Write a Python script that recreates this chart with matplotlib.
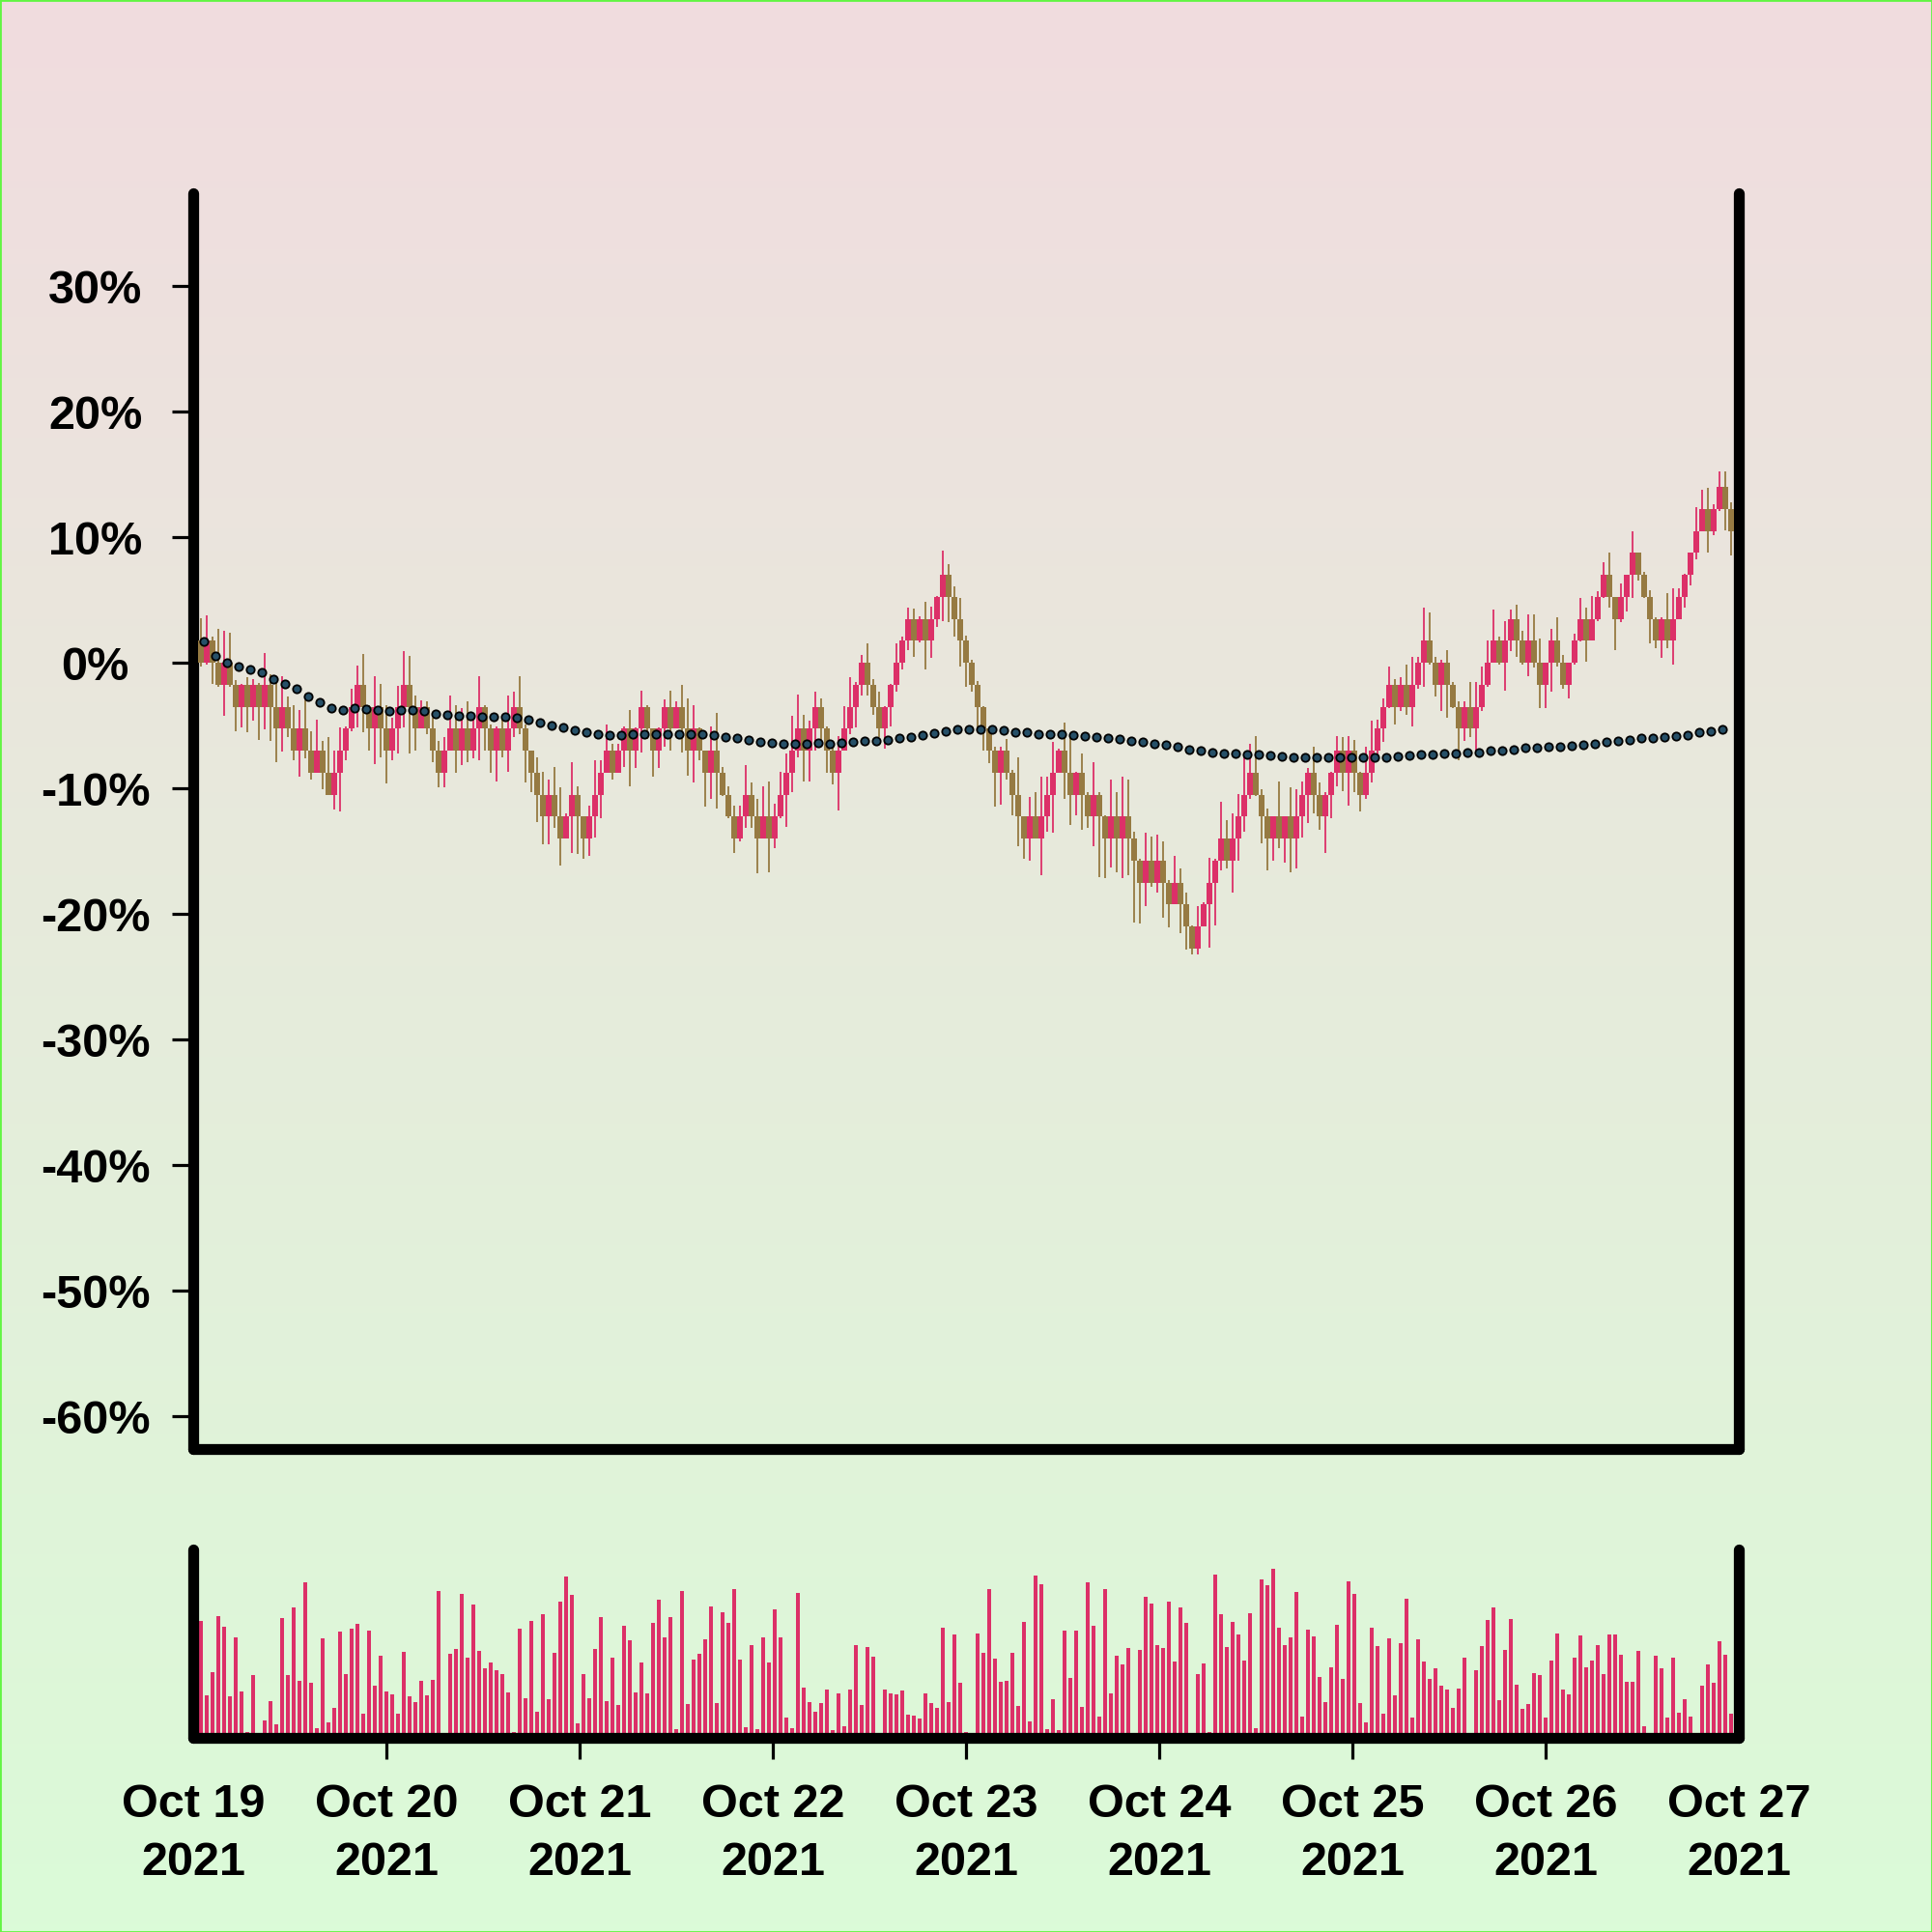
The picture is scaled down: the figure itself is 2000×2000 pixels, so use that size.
import numpy as np
import pandas as pd
import matplotlib
matplotlib.use("Agg")
import matplotlib.pyplot as plt
import matplotlib.dates as mdates
from matplotlib.patches import Rectangle

# candles move in bricks of ~1.75 %, values below are in brick units
BRICK = 1.75
PINK = "#DC3068"
BROWN = "#967A42"

candle_times = pd.date_range("2021-10-19 00:57:36", periods=265, freq="2592s")
ma_times = pd.date_range("2021-10-19 01:19:12", periods=132, freq="5184s")
day_ticks = pd.date_range("2021-10-19", "2021-10-27", freq="D")

first_open = 1
close_lv = [
    0, 1, 0, -1, 0, -1, -2, -1, -2, -1,
    -2, -1, -2, -3, -2, -3, -4, -3, -4, -5,
    -4, -5, -6, -5, -4, -3, -2, -1, -2, -3,
    -2, -3, -4, -3, -2, -1, -2, -3, -2, -3,
    -4, -5, -4, -3, -4, -3, -4, -3, -2, -3,
    -4, -3, -4, -3, -2, -3, -4, -5, -6, -7,
    -6, -7, -8, -7, -6, -7, -8, -7, -6, -5,
    -4, -5, -4, -3, -4, -3, -2, -3, -4, -3,
    -2, -3, -2, -3, -4, -3, -4, -5, -4, -5,
    -6, -7, -8, -7, -6, -7, -8, -7, -8, -7,
    -6, -5, -4, -3, -4, -3, -2, -3, -4, -5,
    -4, -3, -2, -1, 0, -1, -2, -3, -2, -1,
    0, 1, 2, 1, 2, 1, 2, 3, 4, 3,
    2, 1, 0, -1, -2, -3, -4, -5, -4, -5,
    -6, -7, -8, -7, -8, -7, -6, -5, -4, -5,
    -6, -5, -6, -7, -6, -7, -8, -7, -8, -7,
    -8, -9, -10, -9, -10, -9, -10, -11, -10, -11,
    -12, -13, -12, -11, -10, -9, -8, -9, -8, -7,
    -6, -5, -6, -7, -8, -7, -8, -7, -8, -7,
    -6, -5, -6, -7, -6, -5, -4, -5, -4, -5,
    -6, -5, -4, -3, -2, -1, -2, -1, -2, -1,
    0, 1, 0, -1, 0, -1, -2, -3, -2, -3,
    -2, -1, 0, 1, 0, 1, 2, 1, 0, 1,
    0, -1, 0, 1, 0, -1, 0, 1, 2, 1,
    2, 3, 4, 3, 2, 3, 4, 5, 4, 3,
    2, 1, 2, 1, 2, 3, 4, 5, 6, 7,
    6, 7, 8, 7, 6,
]
high_lv = [
    2.04, 2.18, 1.18, 1.55, 1.47, 1.36, -0.8, -0.96, -0.66, -0.74,
    -0.9, 0.47, -0.52, -0.88, -0.59, -1.55, -1.92, -2.14, -1.7, -3.1,
    -2.58, -3.54, -3.39, -3.98, -2.95, -2.88, -1.18, -0.12, 0.41, -1.92,
    -0.59, -0.96, -1.92, -2.5, -1.03, 0.55, 0.32, -1.47, -1.7, -1.77,
    -2.5, -3.54, -3.39, -1.47, -1.92, -2.06, -1.77, -2.36, -0.59, -1.92,
    -2.8, -2.88, -2.36, -1.47, -1.33, -0.59, -2.8, -3.98, -4.28, -4.94,
    -5.31, -4.72, -5.68, -6.86, -4.54, -5.6, -7.0, -6.49, -4.42, -4.42,
    -2.8, -3.69, -3.69, -2.88, -2.14, -2.95, -1.25, -1.92, -3.24, -2.95,
    -1.65, -1.25, -1.77, -1.0, -1.62, -1.92, -2.95, -3.98, -2.88, -2.26,
    -4.72, -5.6, -6.49, -6.49, -4.65, -5.46, -6.19, -5.6, -5.38, -6.42,
    -4.94, -4.13, -2.43, -1.45, -2.36, -2.65, -1.33, -1.62, -2.88, -3.83,
    -3.32, -1.99, -0.66, -0.88, 0.37, 0.88, -0.74, -1.33, -1.99, -0.96,
    0.88, 1.18, 2.51, 2.48, 2.14, 2.8, 2.58, 3.02, 5.09, 4.5,
    3.47, 2.95, 1.25, 0.15, -0.81, -1.99, -3.24, -3.83, -3.83, -3.47,
    -4.87, -4.28, -7.0, -6.12, -5.9, -5.16, -5.16, -3.61, -3.91, -2.73,
    -3.24, -4.94, -4.13, -5.9, -4.5, -5.9, -6.93, -5.31, -5.9, -5.16,
    -5.31, -7.67, -8.92, -7.74, -7.89, -7.82, -8.11, -9.88, -8.78, -9.37,
    -10.47, -11.95, -11.06, -10.91, -8.85, -8.92, -6.34, -7.15, -6.86, -5.97,
    -4.13, -3.69, -3.32, -5.75, -6.64, -7.0, -5.38, -7.0, -5.68, -5.75,
    -5.38, -4.79, -3.83, -5.46, -5.9, -4.94, -3.32, -3.39, -3.32, -3.5,
    -4.94, -3.83, -2.65, -2.58, -1.62, -0.15, -0.74, -0.66, -0.07, 0.29,
    0.29, 2.51, 2.29, 0.29, 0.15, 0.59, -0.88, -1.77, -1.77, -0.88,
    -0.88, -0.15, 1.03, 2.43, 1.18, 1.92, 2.43, 2.65, 1.47, 2.21,
    2.21, 1.11, 0.0, 1.55, 2.06, 0.37, 0.0, 1.33, 2.95, 2.51,
    3.02, 3.24, 4.57, 5.01, 2.95, 3.61, 3.98, 5.97, 5.01, 4.13,
    3.32, 2.06, 2.06, 3.17, 3.39, 3.39, 4.06, 4.87, 7.08, 7.89,
    7.96, 7.23, 8.7, 8.73, 7.3,
]
low_lv = [
    -0.15, -0.07, -0.96, -1.1, -2.43, -1.1, -3.1, -2.95, -3.17, -2.65,
    -3.5, -3.02, -3.57, -4.54, -4.03, -3.39, -4.42, -5.16, -4.35, -5.31,
    -5.01, -5.75, -5.83, -6.67, -6.74, -4.42, -3.1, -2.95, -3.17, -3.98,
    -4.6, -4.28, -5.49, -4.42, -4.13, -2.95, -4.13, -3.98, -2.95, -3.24,
    -4.5, -5.68, -5.68, -3.98, -5.01, -4.65, -4.5, -4.35, -4.42, -3.98,
    -5.01, -5.38, -4.28, -4.94, -3.39, -3.24, -5.46, -5.9, -7.23, -8.26,
    -8.26, -7.52, -9.22, -7.96, -8.63, -8.7, -8.92, -8.78, -7.96, -7.08,
    -5.01, -5.31, -5.01, -4.72, -5.6, -4.79, -4.06, -3.47, -5.16, -4.79,
    -3.83, -3.98, -2.95, -4.06, -5.13, -5.43, -4.42, -6.56, -6.19, -6.64,
    -6.05, -7.08, -8.67, -8.11, -7.52, -7.52, -9.59, -7.96, -9.51, -8.41,
    -7.08, -7.45, -5.9, -4.28, -5.38, -5.38, -3.98, -3.83, -5.01, -5.53,
    -6.71, -3.98, -3.24, -2.95, -1.47, -1.47, -2.36, -3.39, -3.91, -2.88,
    -1.33, -0.3, 0.59, 0.29, 0.91, -0.3, 0.22, 1.62, 1.92, 1.84,
    1.18, -0.15, -1.1, -1.33, -2.95, -3.98, -4.57, -6.56, -6.46, -5.31,
    -6.93, -8.33, -8.92, -9.0, -7.96, -9.66, -7.67, -7.74, -5.01, -6.19,
    -7.37, -6.93, -7.6, -7.52, -8.33, -9.73, -9.81, -9.29, -9.51, -9.81,
    -9.66, -11.8, -11.87, -11.06, -10.18, -10.47, -11.58, -12.02, -10.99, -12.32,
    -13.05, -13.27, -13.27, -11.95, -12.98, -11.95, -9.44, -9.37, -10.47, -9.0,
    -7.67, -6.19, -6.05, -8.19, -9.44, -9.0, -8.41, -9.07, -9.51, -9.37,
    -7.96, -7.3, -6.86, -7.6, -8.63, -7.08, -5.6, -5.83, -6.49, -5.9,
    -6.78, -6.19, -5.46, -4.42, -3.61, -2.06, -2.8, -2.21, -2.36, -2.88,
    -1.18, -1.11, -0.07, -1.55, -2.21, -2.51, -2.06, -4.42, -3.54, -3.39,
    -4.06, -2.21, -1.11, 0.0, -0.07, -1.25, 0.52, 0.29, -0.07, -0.59,
    -0.22, -2.06, -2.06, -1.33, -0.15, -1.18, -1.62, -0.07, 0.96, 0.07,
    1.47, 1.92, 2.95, 2.51, 0.59, 1.84, 2.36, 2.95, 3.76, 2.95,
    0.88, 0.66, 0.22, 0.66, -0.07, 2.21, 2.51, 3.54, 4.72, 5.97,
    5.01, 5.83, 6.93, 6.05, 4.87,
]
volume = [
    364, 132, 204, 378, 344, 129, 312, 143, 19, 194,
    0, 54, 113, 41, 373, 196, 404, 176, 484, 172,
    30, 308, 48, 94, 330, 198, 339, 354, 75, 333,
    161, 255, 145, 136, 74, 266, 128, 111, 176, 132,
    181, 457, 0, 261, 276, 447, 248, 414, 269, 217,
    233, 209, 198, 140, 19, 338, 123, 362, 81, 384,
    119, 265, 422, 500, 444, 44, 197, 122, 276, 375,
    113, 248, 103, 348, 302, 140, 233, 139, 357, 430,
    312, 375, 27, 456, 104, 243, 260, 306, 407, 108,
    390, 357, 462, 242, 32, 287, 28, 311, 233, 399,
    312, 62, 30, 449, 157, 111, 82, 108, 149, 24,
    138, 36, 150, 288, 102, 281, 253, 0, 149, 137,
    135, 146, 71, 68, 60, 137, 108, 93, 342, 110,
    320, 171, 18, 0, 324, 265, 463, 246, 174, 177,
    265, 99, 360, 51, 504, 476, 27, 120, 23, 333,
    187, 332, 96, 482, 348, 66, 462, 138, 255, 228,
    279, 0, 274, 438, 416, 287, 279, 423, 236, 405,
    356, 0, 199, 232, 18, 507, 385, 282, 360, 321,
    240, 387, 29, 492, 474, 524, 341, 288, 311, 454,
    66, 336, 315, 188, 111, 220, 351, 182, 485, 448,
    109, 47, 341, 286, 75, 310, 131, 295, 432, 64,
    307, 236, 182, 216, 162, 151, 93, 153, 248, 0,
    209, 285, 366, 405, 116, 272, 370, 164, 90, 105,
    200, 195, 63, 240, 324, 149, 134, 249, 318, 218,
    239, 289, 199, 321, 321, 257, 173, 173, 270, 37,
    0, 254, 215, 64, 249, 77, 121, 67, 0, 162,
    228, 170, 300, 258, 76,
]
ma_pct = [
    1.74, 0.59, 0.0, -0.33, -0.56, -0.74, -1.28, -1.71, -2.07, -2.64,
    -3.15, -3.59, -3.72, -3.59, -3.69, -3.77, -3.82, -3.72, -3.79, -3.85,
    -4.08, -4.13, -4.18, -4.23, -4.26, -4.31, -4.33, -4.36, -4.51, -4.72,
    -4.97, -5.17, -5.37, -5.56, -5.65, -5.76, -5.73, -5.7, -5.68, -5.67,
    -5.64, -5.64, -5.64, -5.69, -5.77, -5.9, -6.02, -6.15, -6.28, -6.38,
    -6.43, -6.41, -6.41, -6.36, -6.41, -6.38, -6.28, -6.23, -6.2, -6.15,
    -6.02, -5.87, -5.77, -5.59, -5.44, -5.33, -5.27, -5.26, -5.33, -5.38,
    -5.49, -5.56, -5.64, -5.66, -5.69, -5.74, -5.82, -5.92, -6.0, -6.08,
    -6.18, -6.31, -6.41, -6.56, -6.69, -6.89, -7.02, -7.1, -7.18, -7.23,
    -7.28, -7.31, -7.38, -7.43, -7.49, -7.51, -7.54, -7.56, -7.56, -7.56,
    -7.56, -7.54, -7.49, -7.43, -7.38, -7.31, -7.26, -7.2, -7.18, -7.15,
    -7.13, -7.02, -6.95, -6.87, -6.79, -6.74, -6.69, -6.64, -6.59, -6.51,
    -6.41, -6.31, -6.2, -6.1, -6.02, -5.95, -5.9, -5.82, -5.72, -5.56,
    -5.44, -5.31,
]

plt.rcParams["font.family"] = ["Liberation Sans", "DejaVu Sans"]
plt.rcParams["font.weight"] = "bold"

opens = np.array([first_open] + close_lv[:-1]) * BRICK
closes = np.array(close_lv) * BRICK
highs = np.maximum(np.array(high_lv) * BRICK, np.maximum(opens, closes))
lows = np.minimum(np.array(low_lv) * BRICK, np.minimum(opens, closes))
colors = np.where(closes > opens, PINK, BROWN)
x = mdates.date2num(candle_times)
x_ma = mdates.date2num(ma_times)
xlim = mdates.date2num([pd.Timestamp("2021-10-19"), pd.Timestamp("2021-10-27")])

fig = plt.figure(figsize=(20, 20), dpi=100)

# soft vertical gradient behind everything
bg = fig.add_axes([0, 0, 1, 1], zorder=-10)
top_c = np.array([241, 220, 223]) / 255
bot_c = np.array([219, 251, 216]) / 255
t = np.linspace(0, 1, 256)[:, None, None]
bg.imshow(top_c * (1 - t) + bot_c * t, aspect="auto", extent=[0, 1, 0, 1])
bg.axis("off")
fig.add_artist(Rectangle((0, 0), 1, 1, transform=fig.transFigure, fill=False,
                         edgecolor="#62f542", linewidth=2))


def style_spines(a):
    a.spines["top"].set_visible(False)
    for side in ["left", "right", "bottom"]:
        a.spines[side].set_linewidth(8.1)
        a.spines[side].set_capstyle("round")
        a.spines[side].set_color("black")
    a.set_facecolor("none")


# price panel
ax = fig.add_axes([0.1, 0.25, 0.8, 0.65])
style_spines(ax)
ax.vlines(x, lows, highs, colors=colors, linewidth=1.3, zorder=2)
ax.bar(x, closes - opens, bottom=opens, width=0.03, color=colors, linewidth=0, zorder=3)
ax.plot(x_ma, ma_pct, linestyle="none", marker="o", markersize=6,
        markerfacecolor="#265068", markeredgecolor="black", markeredgewidth=1.3, zorder=4)
ax.set_xlim(xlim)
ax.set_ylim(-62.6, 37.4)
yt = list(range(-60, 31, 10))
ax.set_yticks(yt)
ax.set_yticklabels([f"{v}%" for v in yt])
ax.tick_params(axis="y", direction="out", length=16, width=2.3, pad=57, labelsize=35)
for lab in ax.get_yticklabels():
    lab.set_horizontalalignment("center")
ax.tick_params(axis="x", bottom=False, labelbottom=False)

# volume panel
axv = fig.add_axes([0.1, 0.1005, 0.8, 0.0975])
style_spines(axv)
axv.bar(x, volume, width=0.016, color=PINK, linewidth=0)
axv.set_xlim(xlim)
axv.set_ylim(0, 585)
axv.set_yticks([])
axv.set_xticks(mdates.date2num(day_ticks))
axv.set_xticklabels([d.strftime("%b %d\n%Y") for d in day_ticks], linespacing=1.42)
axv.tick_params(axis="x", direction="out", length=16, width=2.3, pad=18, labelsize=35)
xt = axv.xaxis.get_major_ticks()
xt[0].tick1line.set_visible(False)
xt[-1].tick1line.set_visible(False)

fig.savefig("out.png", dpi=100)
